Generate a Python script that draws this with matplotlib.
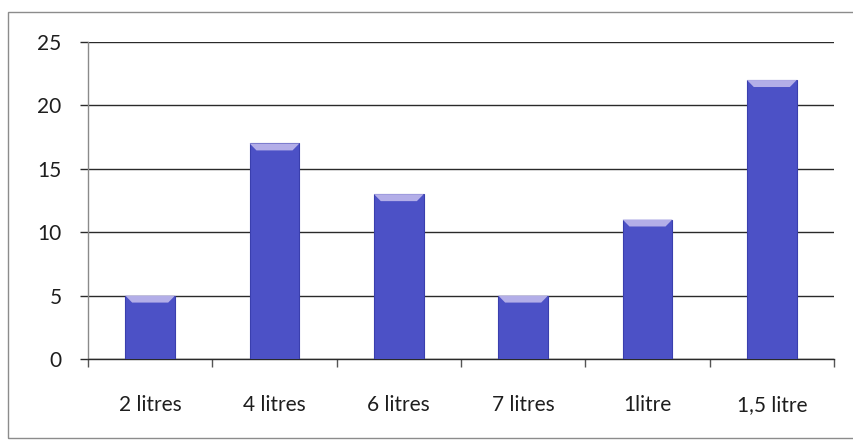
import matplotlib.pyplot as plt
import matplotlib as mpl
from matplotlib.patches import Polygon, Rectangle
import numpy as np

plt.switch_backend("agg")

categories = ["2 litres", "4 litres", "6 litres", "7 litres", "1litre", "1,5 litre"]
values = [5, 17, 13, 5, 11, 22]
yticks = [0, 5, 10, 15, 20, 25]

BAR_COLOR = "#4c51c6"
BAR_EDGE = "#3a3fae"
BEVEL_COLOR = "#b3aee8"

plt.rcParams["font.family"] = ["Lato", "DejaVu Sans"]

fig = plt.figure(figsize=(8.54, 4.41), dpi=100)
fig.patch.set_facecolor("white")

# outer chart frame
frame = Rectangle(
    (8 / 854, 3 / 441), 1.0, 426 / 441,
    transform=fig.transFigure, fill=False, edgecolor="#8c8c8c", linewidth=1.0,
)
fig.patches.append(frame)

ax = fig.add_axes([88 / 854, 82 / 441, 746 / 854, 317 / 441])

x = np.arange(len(categories))
width = 0.4
ax.bar(x, values, width=width, color=BAR_COLOR, edgecolor=BAR_EDGE,
       linewidth=0.8, zorder=3)

# bevel highlight along the top of each bar
bev_h = 0.55
bev_w = 0.055
for xi, v in zip(x, values):
    left, right = xi - width / 2, xi + width / 2
    top = Polygon(
        [(left, v), (right, v), (right - bev_w, v - bev_h), (left + bev_w, v - bev_h)],
        closed=True, facecolor=BEVEL_COLOR, edgecolor="none", zorder=4,
    )
    ax.add_patch(top)

ax.set_xlim(-0.5, len(categories) - 0.5)
ax.set_ylim(0, 25)
ax.set_yticks(yticks)
ax.set_xticks(x)
ax.set_xticklabels(categories)
ax.set_xticks(np.arange(-0.5, len(categories), 1.0), minor=True)

ax.yaxis.grid(True, color="#2a2a2a", linewidth=1.0, zorder=0)
ax.set_axisbelow(True)

for side in ["top", "right"]:
    ax.spines[side].set_visible(False)
ax.spines["left"].set_color("#8a8a8a")
ax.spines["bottom"].set_color("#2a2a2a")
ax.spines["left"].set_linewidth(1.0)
ax.spines["bottom"].set_linewidth(1.0)

ax.tick_params(axis="y", length=6, width=1.0, color="#2a2a2a", pad=13,
               labelsize=15, labelcolor="#1e1e1e")
ax.tick_params(axis="x", which="major", length=0, pad=26,
               labelsize=15, labelcolor="#1e1e1e")
ax.tick_params(axis="x", which="minor", length=6, width=1.0, color="#555555")

plt.savefig("out.png", dpi=100)
